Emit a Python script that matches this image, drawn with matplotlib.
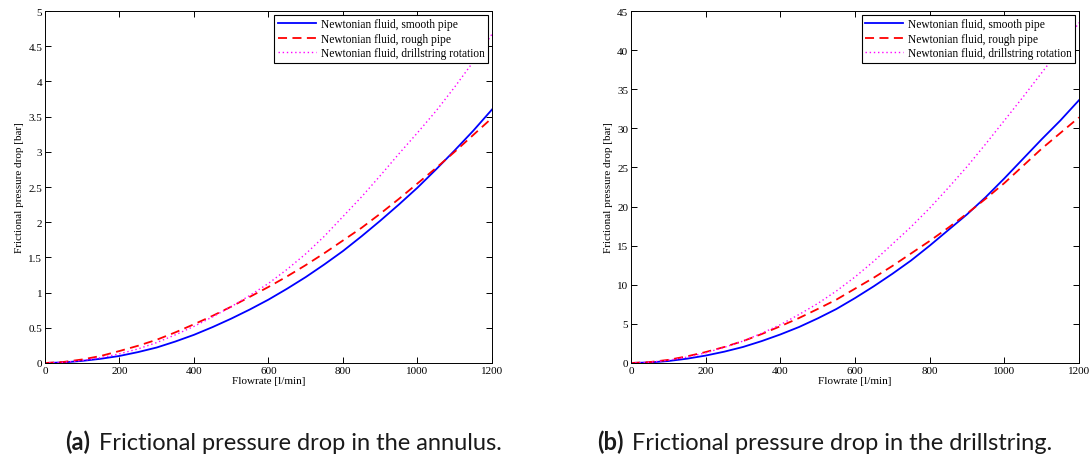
import matplotlib
matplotlib.use("Agg")
import matplotlib.pyplot as plt

flow = [0, 50, 100, 150, 200, 250, 300, 350, 400, 450, 500, 550, 600,
        650, 700, 750, 800, 850, 900, 950, 1000, 1050, 1100, 1150, 1200]

# annulus [bar]
ann_smooth = [0, 0.008, 0.03, 0.06, 0.10, 0.155, 0.22, 0.305, 0.40, 0.51, 0.63, 0.76, 0.90,
              1.055, 1.22, 1.40, 1.59, 1.80, 2.02, 2.25, 2.49, 2.75, 3.02, 3.30, 3.60]
ann_rough = [0, 0.015, 0.05, 0.10, 0.17, 0.245, 0.33, 0.435, 0.55, 0.67, 0.80, 0.94, 1.08,
             1.23, 1.39, 1.56, 1.74, 1.92, 2.12, 2.33, 2.55, 2.77, 3.00, 3.24, 3.48]
ann_rot = [0, 0.01, 0.035, 0.075, 0.13, 0.20, 0.29, 0.40, 0.52, 0.655, 0.80, 0.96, 1.13,
           1.33, 1.55, 1.80, 2.08, 2.36, 2.66, 2.97, 3.27, 3.58, 3.92, 4.28, 4.67]

# drillstring [bar]
ds_smooth = [0, 0.07, 0.25, 0.55, 0.95, 1.45, 2.05, 2.8, 3.65, 4.6, 5.7, 6.9, 8.3,
             9.8, 11.4, 13.1, 15.0, 17.0, 19.0, 21.2, 23.6, 26.1, 28.6, 31.0, 33.6]
ds_rough = [0, 0.12, 0.4, 0.85, 1.4, 2.05, 2.8, 3.7, 4.7, 5.75, 6.9, 8.1, 9.5,
            10.9, 12.4, 14.0, 15.6, 17.3, 19.1, 21.0, 23.0, 25.2, 27.4, 29.4, 31.4]
ds_rot = [0, 0.1, 0.35, 0.75, 1.3, 2.0, 2.8, 3.8, 4.9, 6.2, 7.6, 9.2, 11.0,
          13.0, 15.2, 17.4, 19.8, 22.4, 25.1, 28.0, 31.0, 34.0, 37.1, 40.2, 43.5]

labels = ["Newtonian fluid, smooth pipe",
          "Newtonian fluid, rough pipe",
          "Newtonian fluid, drillstring rotation"]
tags = ["(a)", "(b)"]
captions = ["Frictional pressure drop in the annulus.",
            "Frictional pressure drop in the drillstring."]

serif = ["Liberation Serif", "DejaVu Serif"]
sans = ["Lato", "DejaVu Sans"]

fig = plt.figure(figsize=(10.91, 4.6), dpi=100)
ax1 = fig.add_axes([0.0412, 0.2087, 0.4097, 0.7652])
ax2 = fig.add_axes([0.5784, 0.2087, 0.4106, 0.7652])

panels = [(ax1, ann_smooth, ann_rough, ann_rot, 5, 0.5),
          (ax2, ds_smooth, ds_rough, ds_rot, 45, 5)]

for ax, s, r, d, ymax, ystep in panels:
    ax.plot(flow, s, color="#0000ff", lw=1.3, label=labels[0])
    ax.plot(flow, r, color="#ff0000", lw=1.3, ls=(0, (5, 3)), label=labels[1])
    ax.plot(flow, d, color="#ff00ff", lw=1.0, ls=(0, (1, 2)), label=labels[2])
    ax.set_xlim(0, 1200)
    ax.set_ylim(0, ymax)
    ax.set_xticks(range(0, 1201, 200))
    yt = [i * ystep for i in range(int(round(ymax / ystep)) + 1)]
    ax.set_yticks(yt)
    ax.set_yticklabels(["%g" % v for v in yt])
    ax.tick_params(direction="in", top=True, right=True, length=4, width=0.7,
                   labelsize=8, pad=2)
    for t in ax.get_xticklabels() + ax.get_yticklabels():
        t.set_family(serif)
    for sp in ax.spines.values():
        sp.set_linewidth(0.7)
    ax.set_xlabel("Flowrate [l/min]", family=serif, fontsize=8, labelpad=1)
    ax.set_ylabel("Frictional pressure drop [bar]", family=serif, fontsize=8, labelpad=3)
    leg = ax.legend(loc="upper right", prop={"family": serif, "size": 8.3},
                    fancybox=False, framealpha=1, edgecolor="black",
                    borderpad=0.3, labelspacing=0.2, handlelength=3.3,
                    handletextpad=0.4, borderaxespad=0.35)
    leg.get_frame().set_linewidth(0.8)

# captions: bold tag followed by the text
renderer = fig.canvas.get_renderer()
W = fig.bbox.width
for tag, cap, x0 in zip(tags, captions, [65, 597]):
    t = fig.text(x0 / W, 10 / 460, tag, fontsize=17, fontweight="bold",
                 family=sans, ha="left", va="baseline", color="#1a1a1a")
    bb = t.get_window_extent(renderer)
    fig.text((bb.x1 + 9) / W, 10 / 460, cap, fontsize=17,
             family=sans, ha="left", va="baseline", color="#1a1a1a")

fig.savefig("out.png", dpi=100)
